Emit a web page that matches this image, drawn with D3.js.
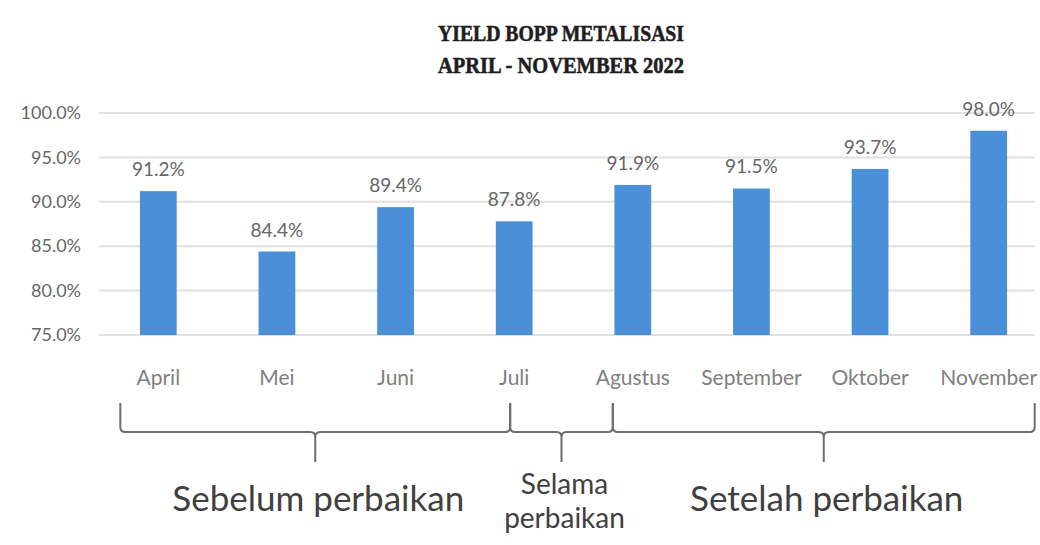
<!DOCTYPE html>
<html>
<head>
<meta charset="utf-8">
<script src="https://cdn.jsdelivr.net/npm/d3@7"></script>
<style>
  body { margin: 0; background: #fff; }
  svg { display: block; }
</style>
</head>
<body>
<div id="chart"></div>
<script>
const months = ['April', 'Mei', 'Juni', 'Juli', 'Agustus', 'September', 'Oktober', 'November'];
const yieldValues = [91.2, 84.4, 89.4, 87.8, 91.9, 91.5, 93.7, 98.0];
const yTicks = [75, 80, 85, 90, 95, 100];
const titleLines = ['YIELD BOPP METALISASI', 'APRIL - NOVEMBER 2022'];
const phaseNames = [['Sebelum perbaikan'], ['Selama', 'perbaikan'], ['Setelah perbaikan']];
const phaseFrom = ['April', 'Juli', 'Agustus'];
const phaseTo = ['Juli', 'Agustus', 'November'];

const size = { width: 1040, height: 545 };
const margin = { left: 99, right: -8, top: 113, bottom: 210 };

const svg = d3.select('#chart')
  .append('svg')
  .attr('width', size.width)
  .attr('height', size.height);

const x = d3.scaleBand()
  .domain(months)
  .range([margin.left, size.width - margin.right])
  .paddingInner(0.69)
  .paddingOuter(0.345);

const y = d3.scaleLinear()
  .domain([75, 100])
  .range([size.height - margin.bottom, margin.top]);

const textGray = '#666666';

// title (heavy condensed serif, squeezed to the width seen in the reference)
svg.append('g')
  .selectAll('text')
  .data(titleLines)
  .enter()
  .append('text')
  .attr('x', 561)
  .attr('y', (d, i) => 41 + i * 32)
  .attr('text-anchor', 'middle')
  .attr('font-family', 'Liberation Serif, serif')
  .attr('font-weight', 'bold')
  .attr('font-size', 24)
  .attr('textLength', 246)
  .attr('lengthAdjust', 'spacingAndGlyphs')
  .attr('fill', '#1e1e1e')
  .attr('stroke', '#1e1e1e')
  .attr('stroke-width', 0.6)
  .text((d) => d);

// gridlines
svg.append('g')
  .selectAll('line')
  .data(yTicks)
  .enter()
  .append('line')
  .attr('x1', margin.left)
  .attr('x2', 1035)
  .attr('y1', (d) => y(d))
  .attr('y2', (d) => y(d))
  .attr('stroke', '#e0e0e0')
  .attr('stroke-width', 2);

// y axis labels
const yAxis = d3.axisLeft(y)
  .tickValues(yTicks)
  .tickFormat((d) => d.toFixed(1) + '%')
  .tickSize(0)
  .tickPadding(0);

svg.append('g')
  .attr('transform', 'translate(81,0)')
  .call(yAxis)
  .call((g) => g.select('.domain').remove())
  .selectAll('text')
  .attr('font-family', 'Lato, sans-serif')
  .attr('font-size', 18)
  .attr('fill', textGray);

// bars
svg.append('g')
  .selectAll('rect')
  .data(yieldValues)
  .enter()
  .append('rect')
  .attr('x', (d, i) => x(months[i]))
  .attr('width', x.bandwidth())
  .attr('y', (d) => y(d))
  .attr('height', (d) => y(75) - y(d))
  .attr('fill', '#4a8fd8');

// value labels
svg.append('g')
  .selectAll('text')
  .data(yieldValues)
  .enter()
  .append('text')
  .attr('x', (d, i) => x(months[i]) + x.bandwidth() / 2)
  .attr('y', (d) => y(d) - 15)
  .attr('text-anchor', 'middle')
  .attr('font-family', 'Lato, sans-serif')
  .attr('font-size', 19)
  .attr('fill', textGray)
  .text((d) => d.toFixed(1) + '%');

// x axis labels
const xAxis = d3.axisBottom(x).tickSize(0).tickPadding(0);
svg.append('g')
  .attr('transform', `translate(0,${y(75) + 35})`)
  .call(xAxis)
  .call((g) => g.select('.domain').remove())
  .selectAll('text')
  .attr('font-family', 'Lato, sans-serif')
  .attr('font-size', 21)
  .attr('fill', '#808080');

// phase brackets
const bandCenter = (m) => x(m) + x.bandwidth() / 2;
const bracketLeft = (m, i) => (i === 0 ? bandCenter(m) - 38 : bandCenter(m) - (m === 'Agustus' ? 20 : 4));
const bracketRight = (m) => (m === 'November' ? bandCenter(m) + 46 : bandCenter(m) - (m === 'Agustus' ? 20 : 4));

const topY = 403;
const lineY = 432;
const tipY = 462;

const bracketPath = (x0, x1) => {
  const xm = (x0 + x1) / 2;
  const p = d3.path();
  p.moveTo(x0, topY);
  p.lineTo(x0, lineY - 5);
  p.quadraticCurveTo(x0, lineY, x0 + 5, lineY);
  p.lineTo(xm - 5, lineY);
  p.quadraticCurveTo(xm, lineY, xm, lineY + 5);
  p.lineTo(xm, tipY);
  p.moveTo(xm, lineY + 5);
  p.quadraticCurveTo(xm, lineY, xm + 5, lineY);
  p.lineTo(x1 - 5, lineY);
  p.quadraticCurveTo(x1, lineY, x1, lineY - 5);
  p.lineTo(x1, topY);
  return p.toString();
};

const phases = phaseNames.map((name, i) => ({
  name,
  x0: bracketLeft(phaseFrom[i], i),
  x1: bracketRight(phaseTo[i]),
}));

svg.append('g')
  .selectAll('path')
  .data(phases)
  .enter()
  .append('path')
  .attr('d', (d) => bracketPath(d.x0, d.x1))
  .attr('fill', 'none')
  .attr('stroke', '#6e6e6e')
  .attr('stroke-width', 2);

const labels = svg.append('g')
  .selectAll('text')
  .data(phases)
  .enter()
  .append('text')
  .attr('text-anchor', 'middle')
  .attr('font-family', 'Lato, sans-serif')
  .attr('font-size', (d) => (d.name.length > 1 ? 28 : 35))
  .attr('fill', '#404040')
  .attr('y', (d) => (d.name.length > 1 ? 494 : 511));

labels.selectAll('tspan')
  .data((d) => d.name.map((line) => ({ line, cx: (d.x0 + d.x1) / 2 + 3 })))
  .enter()
  .append('tspan')
  .attr('x', (d) => d.cx)
  .attr('dy', (d, i) => (i === 0 ? 0 : 34))
  .text((d) => d.line);
</script>
</body>
</html>
